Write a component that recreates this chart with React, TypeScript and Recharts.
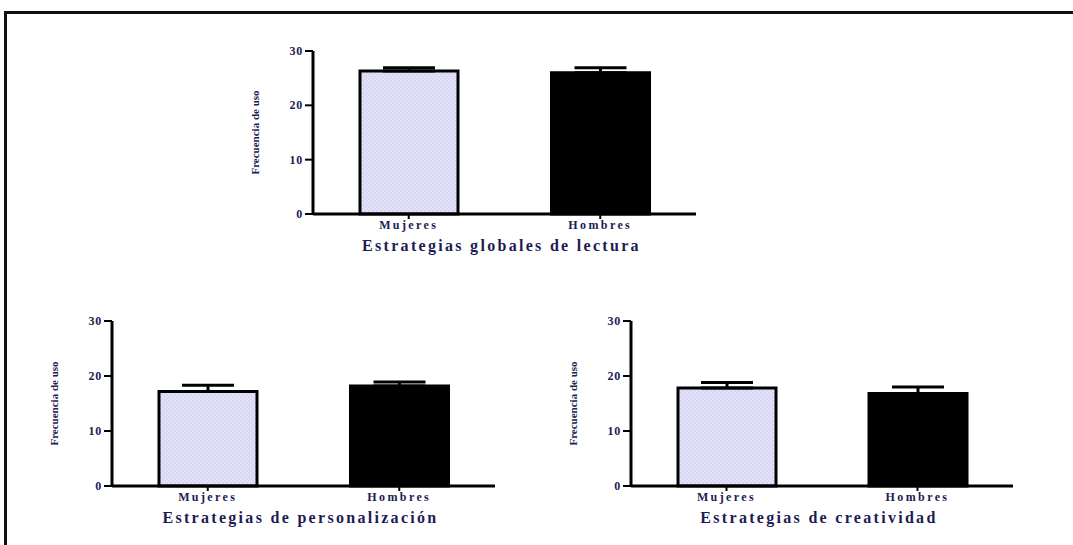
import React from 'react';
import { BarChart, Bar, XAxis, YAxis, ErrorBar, Cell, Label } from 'recharts';

const categories = ['Mujeres', 'Hombres'];
const yTicks = [0, 10, 20, 30];

const globalesValues = [26.3, 26.0];
const globalesErrors = [0.6, 0.9];

const personalizacionValues = [17.2, 18.2];
const personalizacionErrors = [1.1, 0.7];

const creatividadValues = [17.8, 16.8];
const creatividadErrors = [1.0, 1.2];

const titles = [
  'Estrategias globales de lectura',
  'Estrategias de personalización',
  'Estrategias de creatividad',
];
const yLabel = 'Frecuencia de uso';

const FONT = '"Liberation Serif", "DejaVu Serif", "Times New Roman", serif';
const TEXT = '#1c1c54';
const BAR_FILLS = ['url(#PATTERN_ID)', '#000000'];

function buildRows(values: number[], errors: number[]) {
  return categories.map((c, i) => ({ name: c, value: values[i], err: [0, errors[i]] }));
}

type SubProps = {
  id: string;
  left: number;
  top: number;
  margin: { top: number; right: number; bottom: number; left: number };
  values: number[];
  errors: number[];
  title: string;
};

const YTick = (props: any) => {
  const { x, y, payload } = props;
  return (
    <text x={x} y={y + 4} textAnchor="end" fill={TEXT} fontFamily={FONT} fontWeight="bold" fontSize={12} letterSpacing={0.8}>
      {payload.value}
    </text>
  );
};

const XTick = (props: any) => {
  const { x, y, payload } = props;
  return (
    <text x={x} y={y + 10} textAnchor="middle" fill={TEXT} fontFamily={FONT} fontWeight="bold" fontSize={12} letterSpacing={2.4}>
      {payload.value}
    </text>
  );
};

function SubChart({ id, left, top, margin, values, errors, title }: SubProps) {
  const rows = buildRows(values, errors);
  const patId = `dots-${id}`;
  return (
    <div style={{ position: 'absolute', left, top }}>
      <BarChart width={480} height={240} data={rows} margin={margin}>
        <defs>
          <pattern id={patId} width={4} height={4} patternUnits="userSpaceOnUse">
            <rect width={4} height={4} fill="#d8d8f6" />
            <circle cx={1} cy={1} r={0.7} fill="#f4f4ff" />
            <circle cx={3} cy={3} r={0.7} fill="#f4f4ff" />
          </pattern>
        </defs>
        <XAxis
          dataKey="name"
          height={20}
          axisLine={{ stroke: '#000', strokeWidth: 3 }}
          tickLine={{ stroke: '#000', strokeWidth: 2 }}
          tickSize={5}
          tickMargin={0}
          tick={<XTick />}
        >
          <Label
            content={(p: any) => {
              const vb = p.viewBox;
              return (
                <text
                  x={vb.x + vb.width / 2 - 3}
                  y={vb.y + 37}
                  textAnchor="middle"
                  fill={TEXT}
                  fontFamily={FONT}
                  fontWeight="bold"
                  fontSize={16}
                  letterSpacing={2.3}
                >
                  {title}
                </text>
              );
            }}
          />
        </XAxis>
        <YAxis
          width={30}
          domain={[0, 30]}
          ticks={yTicks}
          interval={0}
          axisLine={{ stroke: '#000', strokeWidth: 3 }}
          tickLine={{ stroke: '#000', strokeWidth: 2 }}
          tickSize={8}
          tickMargin={2}
          tick={<YTick />}
        >
          <Label
            content={(p: any) => {
              const vb = p.viewBox;
              const cx = vb.x + vb.width - 58;
              const cy = vb.y + vb.height / 2;
              return (
                <text
                  x={cx}
                  y={cy}
                  transform={`rotate(-90 ${cx} ${cy})`}
                  textAnchor="middle"
                  dominantBaseline="central"
                  fill={TEXT}
                  fontFamily={FONT}
                  fontWeight="bold"
                  fontSize={11}
                >
                  {yLabel}
                </text>
              );
            }}
          />
        </YAxis>
        <Bar dataKey="value" barSize={98} stroke="#000" strokeWidth={3} isAnimationActive={false}>
          {rows.map((r, i) => (
            <Cell key={r.name} fill={BAR_FILLS[i].replace('PATTERN_ID', patId)} />
          ))}
          <ErrorBar dataKey="err" width={26} stroke="#000" strokeWidth={3} direction="y" />
        </Bar>
      </BarChart>
    </div>
  );
}

export default function App() {
  return (
    <div style={{ position: 'absolute', left: 0, top: 0, width: 1073, height: 545, background: '#fff', overflow: 'hidden' }}>
      <div
        style={{
          position: 'absolute',
          left: 4,
          top: 11,
          width: 1080,
          height: 560,
          borderTop: '3px solid #111',
          borderLeft: '3px solid #111',
        }}
      />
      <SubChart
        id="g"
        left={230}
        top={30}
        margin={{ top: 21, right: 14, bottom: 36, left: 53 }}
        values={globalesValues}
        errors={globalesErrors}
        title={titles[0]}
      />
      <SubChart
        id="p"
        left={30}
        top={300}
        margin={{ top: 21, right: 15, bottom: 34, left: 52 }}
        values={personalizacionValues}
        errors={personalizacionErrors}
        title={titles[1]}
      />
      <SubChart
        id="c"
        left={550}
        top={300}
        margin={{ top: 21, right: 17, bottom: 34, left: 51 }}
        values={creatividadValues}
        errors={creatividadErrors}
        title={titles[2]}
      />
    </div>
  );
}
